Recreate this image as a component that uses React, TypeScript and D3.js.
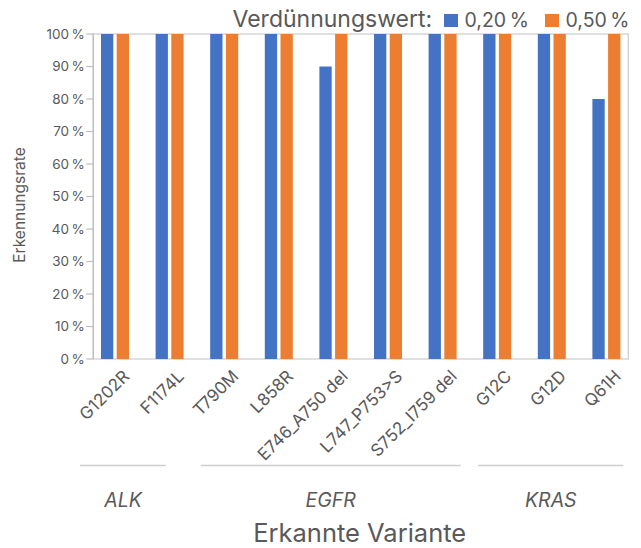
import React from "react";
import * as d3 from "d3";

const variants = ["G1202R", "F1174L", "T790M", "L858R", "E746_A750 del", "L747_P753>S", "S752_I759 del", "G12C", "G12D", "Q61H"];
const series = ["0,20\u202F%", "0,50\u202F%"];
const values020 = [100, 100, 100, 100, 90, 100, 100, 100, 100, 80];
const values050 = [100, 100, 100, 100, 100, 100, 100, 100, 100, 100];
const yTicks = [0, 10, 20, 30, 40, 50, 60, 70, 80, 90, 100];
const genes = ["ALK", "EGFR", "KRAS"];
const geneFirst = ["G1202R", "T790M", "G12C"];
const geneLast = ["F1174L", "S752_I759 del", "Q61H"];
// layout offsets for the group underline (pixels relative to first/last variant centre)
const geneLineStart = [-35, -23.5, -19];
const geneLineEnd = [-3.6, 18, 17];

const colors = ["#4472C4", "#ED7D31"];
const W = 641, H = 548;
const left = 93.3, right = 628.3, top = 34, bottom = 359;
const FONT = "Inter, 'Noto Sans', sans-serif";
const TXT = "#595959";

export default function App() {
  const x = d3.scalePoint<string>().domain(variants).range([115, 606.4]);
  const y = d3.scaleLinear().domain([0, 100]).range([bottom, top]);
  const barW = 12.3;
  const seriesVals = [values020, values050];
  const offs = [-14, 1.7];

  return (
    <svg width={W} height={H} style={{ position: "absolute", left: 0, top: 0, fontFamily: FONT }}>
      {/* frame */}
      <rect x={left} y={top} width={right - left} height={bottom - top} fill="none" stroke="#cfcfcf" strokeWidth={1.3} />
      <line x1={left} x2={left} y1={top} y2={bottom} stroke="#bdbdbd" strokeWidth={1.3} />
      {/* y ticks */}
      {yTicks.map((t) => (
        <g key={t}>
          <line x1={left - 7} x2={left} y1={y(t)} y2={y(t)} stroke="#bdbdbd" strokeWidth={1.2} />
          <text x={left - 8.5} y={y(t)} dy="0.36em" textAnchor="end" fontSize={13.5} fill={TXT}>
            {t + "\u202F%"}
          </text>
        </g>
      ))}
      {/* bars */}
      {variants.map((v, i) =>
        seriesVals.map((vals, s) => (
          <rect
            key={v + s}
            x={(x(v) as number) + offs[s]}
            y={y(vals[i])}
            width={barW}
            height={y(0) - y(vals[i])}
            fill={colors[s]}
          />
        ))
      )}
      {/* x labels */}
      {variants.map((v) => (
        <text
          key={v}
          transform={`translate(${(x(v) as number) + 7},${bottom + 10}) rotate(-45)`}
          textAnchor="end"
          dy="0.7em"
          fontSize={17}
          fill={TXT}
        >
          {v}
        </text>
      ))}
      {/* gene groups */}
      {genes.map((g, i) => {
        const x1 = (x(geneFirst[i]) as number) + geneLineStart[i];
        const x2 = (x(geneLast[i]) as number) + geneLineEnd[i];
        return (
          <g key={g}>
            <line x1={x1} x2={x2} y1={465.5} y2={465.5} stroke="#cfcfcf" strokeWidth={1.5} />
            <text x={(x1 + x2) / 2} y={506.5} textAnchor="middle" fontSize={19.5} fontStyle="italic" fill={TXT}>
              {g}
            </text>
          </g>
        );
      })}
      {/* axis titles */}
      <text x={359.7} y={541.5} textAnchor="middle" fontSize={25.5} fill={TXT}>
        Erkannte Variante
      </text>
      <text transform={`translate(25,205) rotate(-90)`} textAnchor="middle" fontSize={15.5} fill={TXT}>
        Erkennungsrate
      </text>
      {/* legend */}
      <text x={232.5} y={26.5} fontSize={23} fill={TXT}>
        Verdünnungswert:
      </text>
      {series.map((s, i) => (
        <g key={s} transform={`translate(${444 + i * 101},0)`}>
          <rect x={0} y={14} width={14} height={13} fill={colors[i]} />
          <text x={20.5} y={26.5} fontSize={19.5} fill={TXT}>
            {s}
          </text>
        </g>
      ))}
    </svg>
  );
}
